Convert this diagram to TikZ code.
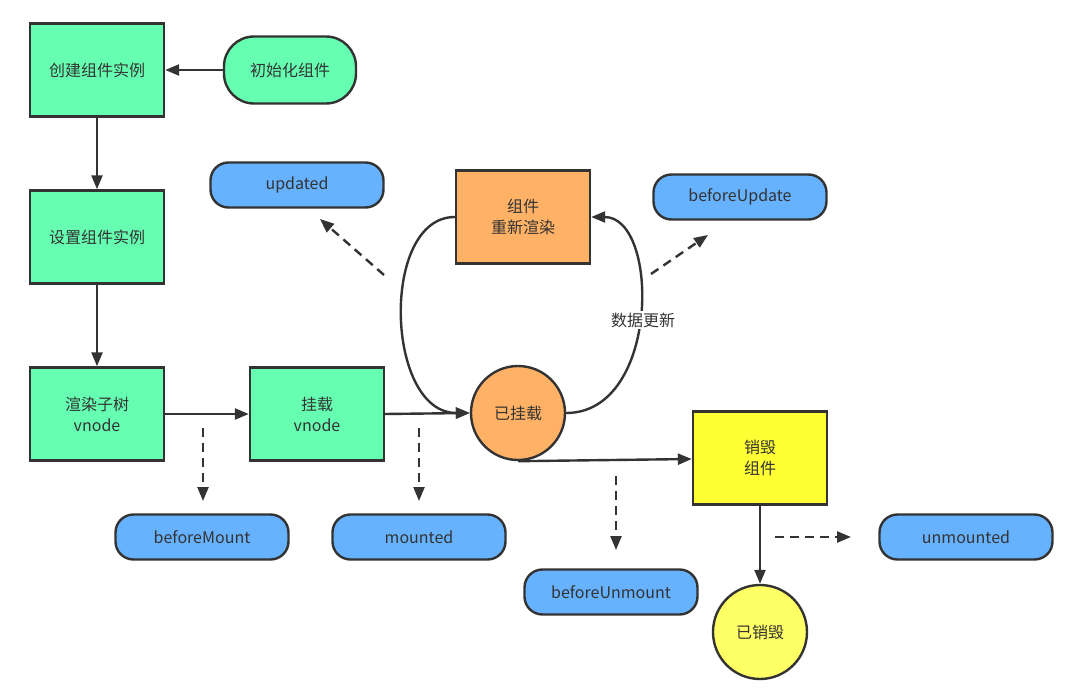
\documentclass[tikz,border=0pt]{standalone}
\usepackage{fontspec}
\setmainfont{Noto Sans CJK SC}
\usetikzlibrary{arrows.meta,shapes.geometric}
\definecolor{gfill}{RGB}{102,255,178}
\definecolor{bfill}{RGB}{102,178,255}
\definecolor{ofill}{RGB}{255,178,102}
\definecolor{yfill}{RGB}{255,255,51}
\definecolor{ycirc}{RGB}{255,255,102}
\definecolor{edge}{RGB}{51,51,51}
\definecolor{txt}{RGB}{51,51,51}
\tikzset{
  base/.style={draw=edge, line width=2.4pt, text=txt, font=\fontsize{16}{21}\selectfont, align=center, inner sep=0pt},
  sqbox/.style={base, rectangle, minimum width=134pt, minimum height=93pt},
  hook/.style={base, rectangle, rounded corners=18pt, fill=bfill, minimum width=173pt, minimum height=45pt},
  pill/.style={base, rectangle, rounded corners=30pt, fill=gfill, minimum width=132pt, minimum height=67pt},
  state/.style={base, circle, minimum size=94pt},
  conn/.style={draw=edge, line width=2.4pt, -{Triangle[length=14pt,width=11pt]}},
  dconn/.style={draw=edge, line width=2.4pt, dash pattern=on 9pt off 6pt, -{Triangle[length=14pt,width=11pt]}},
}
\begin{document}
\begin{tikzpicture}[x=1pt,y=-1pt]
\useasboundingbox (0,0) rectangle (1080,695);
\node[sqbox, fill=gfill] (create) at (97,70) {创建组件实例};
\node[pill] (init) at (290,70) {初始化组件};
\node[sqbox, fill=gfill] (setup) at (97,237) {设置组件实例};
\node[sqbox, fill=gfill] (render) at (97,414) {渲染子树\\vnode};
\node[sqbox, fill=gfill] (mount) at (317,414) {挂载\\vnode};
\node[state, fill=ofill] (mounted) at (518,413) {已挂载};
\node[sqbox, fill=ofill] (rerender) at (523,217) {组件\\重新渲染};
\node[sqbox, fill=yfill] (destroy) at (760,458) {销毁\\组件};
\node[state, fill=ycirc] (destroyed) at (760,632) {已销毁};

\node[hook] (updated) at (297,185) {updated};
\node[hook] (beforeupdate) at (740,197) {beforeUpdate};
\node[hook] (beforemount) at (202,537) {beforeMount};
\node[hook] (mountedhook) at (419,537) {mounted};
\node[hook] (beforeunmount) at (611,592) {beforeUnmount};
\node[hook] (unmounted) at (966,537) {unmounted};

\draw[conn] (init.west) -- (create.east);
\draw[conn] (create.south) -- (setup.north);
\draw[conn] (setup.south) -- (render.north);
\draw[conn] (render.east) -- (mount.west);
\draw[conn] (mount.east) -- (mounted.west);
\draw[conn] (rerender.west) .. controls (380,217) and (385,413) .. (mounted.west);
\draw[conn] (mounted.east) .. controls (660,413) and (660,217) .. (rerender.east);
\node[fill=white, text=txt, font=\fontsize{16}{21}\selectfont, inner sep=2pt] (datalbl) at (643,320) {数据更新};
\draw[conn] (mounted.south) -- (destroy.west |- 0,459) coordinate (dw);
\draw[conn] (destroy.south) -- (destroyed.north);

\coordinate (d1s) at (203,428); \coordinate (d1e) at (203,501);
\coordinate (d2s) at (419,428); \coordinate (d2e) at (419,501);
\coordinate (d3s) at (616,476); \coordinate (d3e) at (616,550);
\coordinate (d4s) at (775,537); \coordinate (d4e) at (851,537);
\coordinate (d5s) at (384,275); \coordinate (d5e) at (320,219);
\coordinate (d6s) at (651,274); \coordinate (d6e) at (708,235);
\draw[dconn] (d1s) -- (d1e);
\draw[dconn] (d2s) -- (d2e);
\draw[dconn] (d3s) -- (d3e);
\draw[dconn] (d4s) -- (d4e);
\draw[dconn] (d5s) -- (d5e);
\draw[dconn] (d6s) -- (d6e);
\end{tikzpicture}
\end{document}
